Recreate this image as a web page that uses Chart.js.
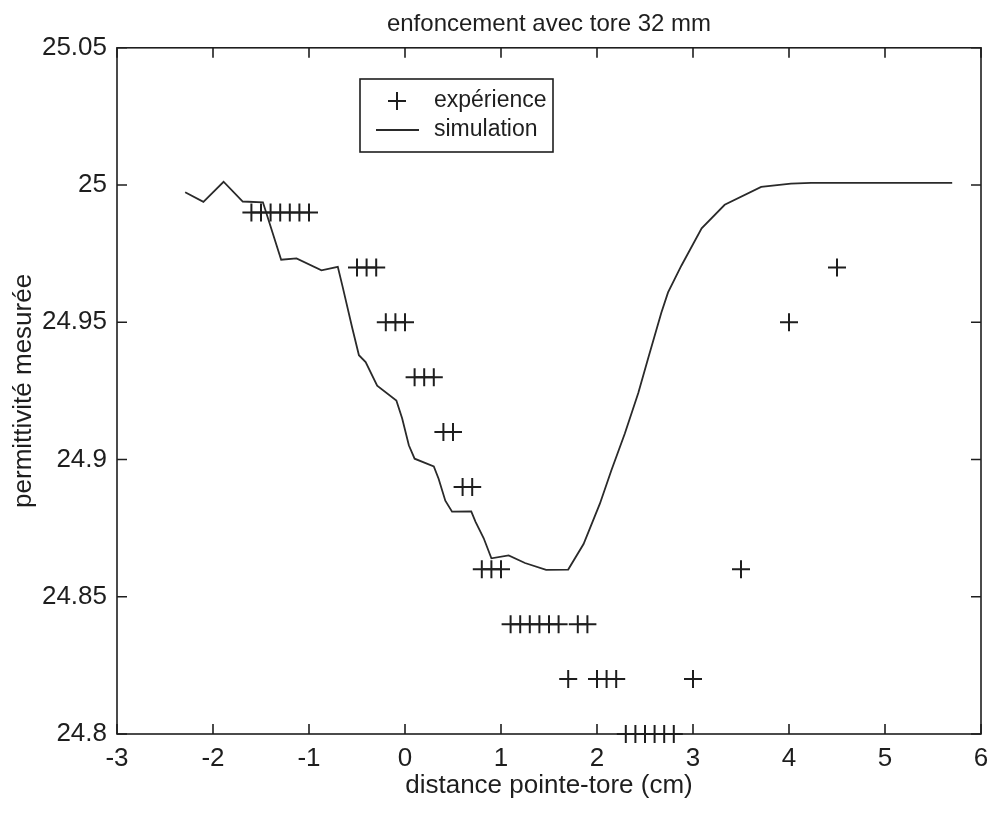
<!DOCTYPE html>
<html>
<head>
<meta charset="UTF-8" />
<script src="https://cdn.jsdelivr.net/npm/chart.js"></script>
<style>
  body { margin: 0; background: #fff; }
  canvas { display: block; }
</style>
</head>
<body>
<canvas id="chart" width="992" height="813"></canvas>
<script>
// measured points (+)
const expX = [-1.6, -1.5, -1.4, -1.3, -1.2, -1.1, -1.0,
  -0.5, -0.4, -0.3,
  -0.2, -0.1, 0.0,
  0.1, 0.2, 0.3,
  0.4, 0.5,
  0.6, 0.7,
  0.8, 0.9, 1.0,
  1.1, 1.2, 1.3, 1.4, 1.5, 1.6, 1.8, 1.9,
  1.7, 2.0, 2.1, 2.2, 3.0,
  2.3, 2.4, 2.5, 2.6, 2.7, 2.8,
  3.5, 4.0, 4.5];
const expY = [24.99, 24.99, 24.99, 24.99, 24.99, 24.99, 24.99,
  24.97, 24.97, 24.97,
  24.95, 24.95, 24.95,
  24.93, 24.93, 24.93,
  24.91, 24.91,
  24.89, 24.89,
  24.86, 24.86, 24.86,
  24.84, 24.84, 24.84, 24.84, 24.84, 24.84, 24.84, 24.84,
  24.82, 24.82, 24.82, 24.82, 24.82,
  24.80, 24.80, 24.80, 24.80, 24.80, 24.80,
  24.86, 24.95, 24.97];

// simulation curve
const simX = [-2.29, -2.10, -1.89, -1.69, -1.48, -1.29, -1.13, -0.87, -0.70, -0.65, -0.55,
  -0.48, -0.41, -0.29, -0.09, -0.03, 0.04, 0.10, 0.30, 0.35, 0.42, 0.49, 0.69, 0.735, 0.82,
  0.90, 1.08, 1.25, 1.47, 1.70, 1.86, 2.03, 2.15, 2.29, 2.43, 2.53, 2.67, 2.74, 2.88,
  3.09, 3.33, 3.71, 4.02, 4.23, 5.70];
const simY = [24.9974, 24.9939, 25.0012, 24.9940, 24.9937, 24.9728, 24.9733, 24.9689, 24.9702, 24.9630, 24.9480,
  24.9380, 24.9355, 24.9269, 24.9215, 24.9150, 24.9052, 24.9003, 24.8975, 24.8930, 24.8850, 24.8810, 24.8811, 24.8773, 24.8713,
  24.8640, 24.8651, 24.8623, 24.8598, 24.8599, 24.8692, 24.8839, 24.8961, 24.9095, 24.9242, 24.9365, 24.9535, 24.9609, 24.9707,
  24.9842, 24.9928, 24.9993, 25.0005, 25.0008, 25.0008];

const xTicks = [-3, -2, -1, 0, 1, 2, 3, 4, 5, 6];
const yTicks = [24.8, 24.85, 24.9, 24.95, 25, 25.05];

const labels = {
  title: "enfoncement avec tore 32 mm",
  x: "distance pointe-tore (cm)",
  y: "permittivité mesurée",
  exp: "expérience",
  sim: "simulation"
};

const ink = "#1e1e1e";
const fontFamily = "'Liberation Sans', Arial, sans-serif";
Chart.defaults.color = ink;
Chart.defaults.font.family = fontFamily;

const toPts = (xs, ys) => xs.map((x, i) => ({ x: x, y: ys[i] }));

// box + inward ticks on all four sides, like the old plot
const frame = {
  id: "frame",
  afterDraw(chart) {
    const { ctx, chartArea: a, scales } = chart;
    const len = 10;
    ctx.save();
    ctx.strokeStyle = ink;
    ctx.lineWidth = 1.6;
    ctx.strokeRect(a.left, a.top, a.right - a.left, a.bottom - a.top);
    ctx.beginPath();
    xTicks.forEach(v => {
      const px = scales.x.getPixelForValue(v);
      ctx.moveTo(px, a.bottom); ctx.lineTo(px, a.bottom - len);
      ctx.moveTo(px, a.top); ctx.lineTo(px, a.top + len);
    });
    yTicks.forEach(v => {
      const py = scales.y.getPixelForValue(v);
      ctx.moveTo(a.left, py); ctx.lineTo(a.left + len, py);
      ctx.moveTo(a.right, py); ctx.lineTo(a.right - len, py);
    });
    ctx.stroke();
    ctx.restore();
  }
};

// legend box inside the axes
const boxLegend = {
  id: "boxLegend",
  afterDraw(chart) {
    const ctx = chart.ctx;
    const b = { left: 360, top: 79, right: 553, bottom: 152 };
    const row1 = 101, row2 = 130;
    ctx.save();
    ctx.fillStyle = "#fff";
    ctx.fillRect(b.left, b.top, b.right - b.left, b.bottom - b.top);
    ctx.strokeStyle = ink;
    ctx.lineWidth = 1.6;
    ctx.strokeRect(b.left, b.top, b.right - b.left, b.bottom - b.top);
    const expDs = chart.data.datasets[0];
    const simDs = chart.data.datasets[1];
    // cross marker
    ctx.strokeStyle = expDs.borderColor;
    ctx.lineWidth = expDs.borderWidth;
    ctx.beginPath();
    ctx.moveTo(388, row1); ctx.lineTo(406, row1);
    ctx.moveTo(397, row1 - 9); ctx.lineTo(397, row1 + 9);
    ctx.stroke();
    // line sample
    ctx.strokeStyle = simDs.borderColor;
    ctx.lineWidth = simDs.borderWidth;
    ctx.beginPath();
    ctx.moveTo(376, row2); ctx.lineTo(419, row2);
    ctx.stroke();
    ctx.fillStyle = ink;
    ctx.font = "23px " + fontFamily;
    ctx.textAlign = "left";
    ctx.textBaseline = "middle";
    ctx.fillText(labels.exp, 434, row1);
    ctx.fillText(labels.sim, 434, row2);
    ctx.restore();
  }
};

const fmt = v => String(+Number(v).toFixed(2));

new Chart(document.getElementById("chart"), {
  type: "scatter",
  data: {
    datasets: [
      {
        label: labels.exp,
        data: toPts(expX, expY),
        pointStyle: "cross",
        pointRadius: 9,
        borderColor: ink,
        borderWidth: 2,
        showLine: false,
        clip: false
      },
      {
        label: labels.sim,
        data: toPts(simX, simY),
        showLine: true,
        pointRadius: 0,
        borderColor: "#2a2a2a",
        borderWidth: 1.8,
        tension: 0
      }
    ]
  },
  options: {
    responsive: false,
    animation: false,
    layout: { padding: { left: 0, right: 7, top: 0, bottom: 0 } },
    plugins: {
      legend: { display: false },
      tooltip: { enabled: false },
      title: {
        display: true,
        text: labels.title,
        fullSize: false,
        font: { size: 24, weight: "normal" },
        padding: { top: 10, bottom: 9 }
      }
    },
    scales: {
      x: {
        type: "linear",
        min: -3,
        max: 6,
        afterBuildTicks: s => { s.ticks = xTicks.map(v => ({ value: v })); },
        afterFit: s => { s.height = 79; s.paddingLeft = 0; s.paddingRight = 0; },
        grid: { display: false, drawTicks: false },
        border: { display: false },
        ticks: { padding: 9, font: { size: 26 }, callback: fmt, maxRotation: 0 },
        title: { display: true, text: labels.x, font: { size: 26 }, padding: { top: 0, bottom: 12 } }
      },
      y: {
        type: "linear",
        min: 24.8,
        max: 25.05,
        afterBuildTicks: s => { s.ticks = yTicks.map(v => ({ value: v })); },
        afterFit: s => { s.width = 117; s.paddingTop = 0; s.paddingBottom = 0; },
        grid: { display: false, drawTicks: false },
        border: { display: false },
        ticks: { padding: 10, font: { size: 26 }, callback: fmt },
        title: { display: true, text: labels.y, font: { size: 26 }, padding: { top: 8, bottom: 4 } }
      }
    }
  },
  plugins: [frame, boxLegend]
});
</script>
</body>
</html>
